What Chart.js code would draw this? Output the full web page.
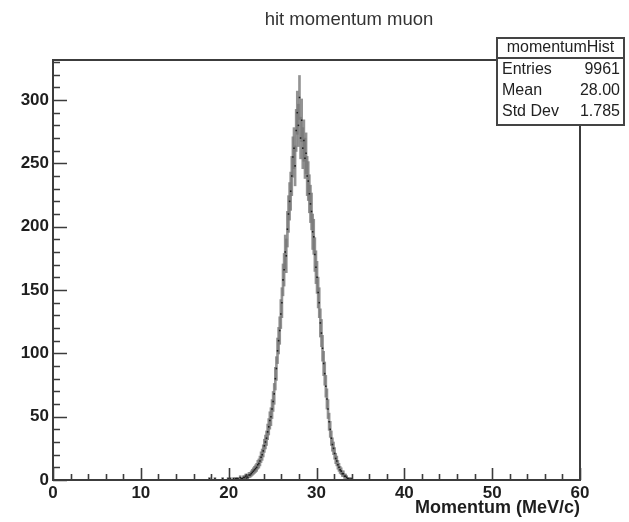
<!DOCTYPE html>
<html>
<head>
<meta charset="utf-8">
<script src="https://cdn.jsdelivr.net/npm/chart.js@4.4.1/dist/chart.umd.min.js"></script>
<style>
  html, body { margin: 0; padding: 0; background: #fff; }
  #wrap { width: 629px; height: 522px; }
</style>
</head>
<body>
<div id="wrap"><canvas id="momChart" width="629" height="522"></canvas></div>
<script>
// histogram binning (MeV/c) - only the filled part of 0..60 is listed
const binStart = 17.0
const binWidth = 0.125

// counts per bin, 8 bins per MeV from 17 to 34
const counts = [
  0,0,0,0,0,0,1,0,          // 17
  0,0,0,1,0,0,0,0,          // 18
  0,0,1,0,0,0,0,1,          // 19
  0,1,0,0,1,0,1,1,          // 20
  1,0,2,1,1,2,2,3,          // 21
  3,2,4,4,5,6,7,8,          // 22
  9,10,12,13,15,18,20,23,   // 23
  27,30,33,38,42,47,50,56,  // 24
  62,68,80,88,102,110,118,131,   // 25
  140,158,166,180,177,198,210,220, // 26
  228,240,255,262,248,276,290,280, // 27
  302,270,284,262,268,254,258,240, // 28
  236,226,218,212,196,192,178,168, // 29
  160,148,140,124,116,104,92,84,   // 30
  74,64,56,46,40,33,28,25,   // 31
  21,17,15,12,10,8,7,5,      // 32
  5,3,3,2,1,1,0,1            // 33
]

const xTicks = [0, 10, 20, 30, 40, 50, 60]
const yTicks = [0, 50, 100, 150, 200, 250, 300]

const statsLabels = ['Entries', 'Mean', 'Std Dev']
const statsValues = ['9961', '28.00', '1.785']

// build points for the library (skip empty bins like ROOT does)
let points = []
let errBars = []
for (let i = 0; i < counts.length; i++) {
  let c = counts[i]
  if (c <= 0) continue
  let x = binStart + (i + 0.5) * binWidth
  points.push({x: x, y: c})
  errBars.push({x: x, y: [Math.max(0, c - Math.sqrt(c)), c + Math.sqrt(c)]})
}

// ROOT style frame, inner ticks, title and stats box
const rootDecor = {
  id: 'rootDecor',
  afterDraw(chart) {
    const ctx = chart.ctx
    const a = chart.chartArea
    const xs = chart.scales.x
    const ys = chart.scales.y
    ctx.save()
    ctx.strokeStyle = '#3c3c3c'
    ctx.lineWidth = 2
    ctx.strokeRect(a.left, a.top, a.right - a.left, a.bottom - a.top)

    ctx.lineWidth = 1.6
    ctx.beginPath()
    for (let v = 0; v <= 60; v += 2) {
      let px = Math.round(xs.getPixelForValue(v)) + 0.5
      let len = (v % 10 === 0) ? 12 : 6
      ctx.moveTo(px, a.bottom)
      ctx.lineTo(px, a.bottom - len)
    }
    for (let v = 0; v <= 330; v += 10) {
      let py = Math.round(ys.getPixelForValue(v)) + 0.5
      let len = (v % 50 === 0) ? 14 : 7
      ctx.moveTo(a.left, py)
      ctx.lineTo(a.left + len, py)
    }
    ctx.stroke()

    // title
    ctx.fillStyle = '#333'
    ctx.font = '18.5px "Liberation Sans", Arial, sans-serif'
    ctx.textAlign = 'center'
    ctx.textBaseline = 'middle'
    ctx.fillText('hit momentum muon', 349, 20)

    // stats box
    let bx = 497, by = 38, bw = 127, bh = 87
    ctx.fillStyle = '#fff'
    ctx.fillRect(bx, by, bw, bh)
    ctx.strokeStyle = '#444'
    ctx.lineWidth = 2
    ctx.strokeRect(bx, by, bw, bh)
    ctx.beginPath()
    ctx.moveTo(bx, by + 20)
    ctx.lineTo(bx + bw, by + 20)
    ctx.stroke()
    ctx.fillStyle = '#222'
    ctx.font = '16px "Liberation Sans", Arial, sans-serif'
    ctx.textAlign = 'center'
    ctx.fillText('momentumHist', bx + bw / 2, by + 10)
    for (let i = 0; i < statsLabels.length; i++) {
      let ty = by + 32 + i * 21
      ctx.textAlign = 'left'
      ctx.fillText(statsLabels[i], bx + 5, ty)
      ctx.textAlign = 'right'
      ctx.fillText(statsValues[i], bx + bw - 4, ty)
    }
    ctx.restore()
  }
}

const tickFont = { family: '"Liberation Sans", Arial, sans-serif', size: 17, weight: 'bold' }
const titleFont = { family: '"Liberation Sans", Arial, sans-serif', size: 18, weight: 'bold' }

new Chart(document.getElementById('momChart'), {
  type: 'bar',
  data: {
    datasets: [
      {
        type: 'line',
        label: 'markers',
        data: points,
        showLine: false,
        pointStyle: 'rect',
        pointRadius: 1.1,
        pointBorderWidth: 0,
        pointBackgroundColor: '#1e1e1e',
        order: 0
      },
      {
        label: 'errors',
        data: errBars,
        backgroundColor: 'rgba(120,120,120,0.8)',
        barThickness: 2,
        borderSkipped: false,
        order: 1
      }
    ]
  },
  options: {
    responsive: false,
    animation: false,
    events: [],
    layout: { padding: { top: 60, right: 49, left: 0, bottom: 0 } },
    plugins: {
      legend: { display: false },
      tooltip: { enabled: false },
      title: { display: false }
    },
    scales: {
      x: {
        type: 'linear',
        offset: false,
        min: 0,
        max: 60,
        afterFit: s => { s.height = 42 },
        afterBuildTicks: s => { s.ticks = xTicks.map(v => ({value: v})) },
        grid: { display: false, drawTicks: false, offset: false },
        border: { display: false },
        ticks: { font: tickFont, color: '#1e1e1e', padding: 3, maxRotation: 0, autoSkip: false },
        title: {
          display: true,
          text: 'Momentum (MeV/c)',
          align: 'end',
          color: '#1e1e1e',
          font: titleFont,
          padding: { top: 0, bottom: 3 }
        }
      },
      y: {
        min: 0,
        max: 331.6,
        afterFit: s => { s.width = 53 },
        afterBuildTicks: s => { s.ticks = yTicks.map(v => ({value: v})) },
        grid: { display: false, drawTicks: false },
        border: { display: false },
        ticks: { font: tickFont, color: '#1e1e1e', padding: 4 }
      }
    }
  },
  plugins: [rootDecor]
})
</script>
</body>
</html>
